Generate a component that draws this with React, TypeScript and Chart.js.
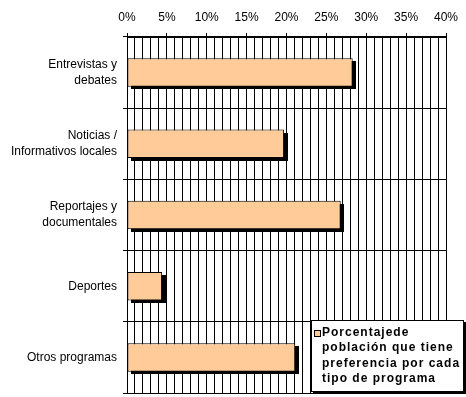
import { useEffect, useRef } from "react";
import { Chart, registerables } from "chart.js";

Chart.register(...registerables);

const categories: string[][] = [
  ["Entrevistas y", "debates"],
  ["Noticias /", "Informativos locales"],
  ["Reportajes y", "documentales"],
  ["Deportes"],
  ["Otros programas"],
];
const values: number[] = [28.3, 19.7, 26.8, 4.4, 21.1];
const seriesName = "Porcentajede población que tiene preferencia por cada tipo de programa";
const legendLines: string[] = ["Porcentajede", "población que tiene", "preferencia por cada", "tipo de programa"];
const xMin = 0;
const xMax = 40;
const xMajorStep = 5;
const xMinorStep = 1;

const FONT = '"Liberation Sans", Arial, sans-serif';
const BAR_FILL = "#FFCC99";
const SHADOW = 3;

const shadowPlugin = {
  id: "barShadow",
  beforeDatasetsDraw(chart: any) {
    const ctx = chart.ctx;
    const area = chart.chartArea;
    ctx.save();
    ctx.beginPath();
    ctx.rect(area.left, area.top, area.right - area.left, area.bottom - area.top);
    ctx.clip();
    ctx.fillStyle = "#000";
    chart.data.datasets.forEach((_d: any, di: number) => {
      const meta = chart.getDatasetMeta(di);
      meta.data.forEach((el: any) => {
        const p = el.getProps(["x", "y", "base", "height"], true);
        const left = Math.min(p.base, p.x);
        const w = Math.abs(p.x - p.base);
        const top = p.y - p.height / 2;
        ctx.fillRect(Math.round(left) + SHADOW, Math.round(top) + SHADOW, Math.round(w), Math.round(p.height));
      });
    });
    ctx.restore();
  },
};

const legendPlugin = {
  id: "boxLegend",
  afterDraw(chart: any) {
    const ctx = chart.ctx;
    const x = 311;
    const y = 320;
    const w = 153;
    const h = 72;
    ctx.save();
    ctx.fillStyle = "#000";
    ctx.fillRect(x + 2, y + 2, w, h);
    ctx.fillStyle = "#fff";
    ctx.fillRect(x, y, w, h);
    ctx.strokeStyle = "#000";
    ctx.lineWidth = 1;
    ctx.strokeRect(x + 0.5, y + 0.5, w - 1, h - 1);
    ctx.fillStyle = BAR_FILL;
    ctx.fillRect(314, 330, 6, 6);
    ctx.strokeRect(314.5, 330.5, 6, 6);
    ctx.fillStyle = "#000";
    ctx.font = `bold 12px ${FONT}`;
    (ctx as any).letterSpacing = "1px";
    ctx.textBaseline = "alphabetic";
    ctx.textAlign = "left";
    legendLines.forEach((line, i) => {
      ctx.fillText(line, 322, 336 + i * 15.3);
    });
    ctx.restore();
  },
};

export default function App() {
  const canvasRef = useRef<HTMLCanvasElement | null>(null);

  useEffect(() => {
    const canvas = canvasRef.current;
    if (!canvas) return;
    const chart = new Chart(canvas, {
      type: "bar",
      data: {
        labels: categories as any,
        datasets: [
          {
            label: seriesName,
            data: values,
            backgroundColor: BAR_FILL,
            borderColor: "#000",
            borderWidth: 1,
            borderSkipped: false,
            categoryPercentage: 1,
            barPercentage: 0.4,
          },
        ],
      },
      options: {
        indexAxis: "y",
        responsive: false,
        animation: false,
        devicePixelRatio: 1,
        layout: { padding: { left: 0, top: 0, right: 20, bottom: 4 } },
        plugins: {
          legend: { display: false },
          tooltip: { enabled: false },
          title: { display: false },
        },
        scales: {
          x: {
            type: "linear",
            position: "top",
            min: xMin,
            max: xMax,
            ticks: {
              stepSize: xMinorStep,
              autoSkip: false,
              maxRotation: 0,
              color: "#000",
              padding: 8,
              font: { family: FONT, size: 12 },
              callback: (v: any) => (Number(v) % xMajorStep === 0 ? `${v}%` : ""),
            },
            grid: {
              color: "#000",
              lineWidth: 1,
              tickLength: 4,
              tickColor: (c: any) =>
                c.tick && c.tick.value % xMajorStep === 0 ? "#000" : "rgba(0,0,0,0)",
            },
            border: { color: "#000", width: 1 },
            afterFit(scale: any) {
              scale.height = 37;
              scale.paddingLeft = 0;
              scale.paddingRight = 0;
            },
          },
          y: {
            type: "category",
            ticks: {
              color: "#000",
              padding: 6,
              font: { family: FONT, size: 12, lineHeight: 1.33 },
            },
            grid: {
              offset: true,
              color: "#000",
              lineWidth: 1,
              tickLength: 4,
              tickColor: "#000",
            },
            border: { color: "#000", width: 1 },
            afterFit(scale: any) {
              scale.width = 127;
              scale.paddingTop = 0;
              scale.paddingBottom = 0;
            },
          },
        },
      },
      plugins: [shadowPlugin, legendPlugin],
    });
    return () => chart.destroy();
  }, []);

  return (
    <div style={{ position: "absolute", left: 0, top: 0, width: 466, height: 397, background: "#fff" }}>
      <canvas ref={canvasRef} width={466} height={397} />
    </div>
  );
}
